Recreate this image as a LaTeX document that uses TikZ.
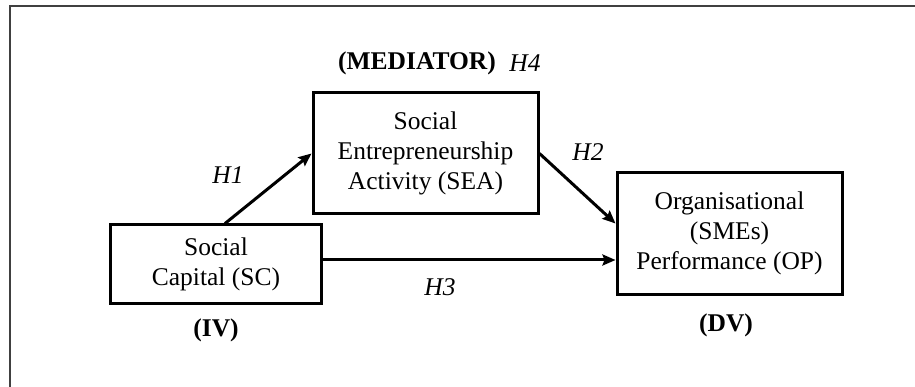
\documentclass[tikz,border=0pt]{standalone}
\usepackage{fontspec}
\setmainfont{Liberation Serif}
\usetikzlibrary{arrows.meta,positioning}

\begin{document}
\begin{tikzpicture}[x=1pt, y=-1pt, >={Stealth[length=13pt,width=11pt,inset=2pt]},
    varbox/.style={draw, line width=3pt, align=center, inner sep=0pt,
        font=\fontsize{25.5}{30}\selectfont},
    hyp/.style={font=\fontsize{25.5}{30}\selectfont\itshape},
    role/.style={font=\fontsize{25.5}{30}\selectfont\bfseries},
    link/.style={->, line width=3pt}]
    \useasboundingbox (0,0) rectangle (915,387);

    % Frame (only top and left edges show)
    \draw[line width=2pt, black!75] (9.5,387) -- (9.5,6) -- (915,6);

    % Variables
    \node[varbox, minimum width=211pt, minimum height=78pt] (sc) at (216,264)
        {Social\\Capital (SC)};
    \node[varbox, minimum width=225pt, minimum height=121pt] (sea) at (425.5,153.5)
        {\fontsize{25.5}{32}\selectfont Social\\Entrepreneurship\\Activity (SEA)};
    \node[varbox, minimum width=225pt, minimum height=121pt] (op) at (729.5,233.5)
        {Organisational\\(SMEs)\\Performance (OP)};

    % Paths
    \draw[link] ([xshift=9pt]sc.north) -- (sea.west);
    \draw[link] (sea.east) -- ([yshift=10pt]op.west);
    \draw[link] ([yshift=4pt]sc.east) -- ([yshift=4pt]sc.east -| op.west);

    % Hypotheses
    \node[hyp] (h1) at (228,175) {H1};
    \node[hyp] (h2) at (588,152) {H2};
    \node[hyp] (h3) at (440,287) {H3};
    \node[hyp] (h4) at (525,63) {H4};

    % Roles
    \node[role] (med) at (417,63) {(MEDIATOR)};
    \node[role] (iv) at (216,330) {(IV)};
    \node[role] (dv) at (726,325) {(DV)};
\end{tikzpicture}
\end{document}
